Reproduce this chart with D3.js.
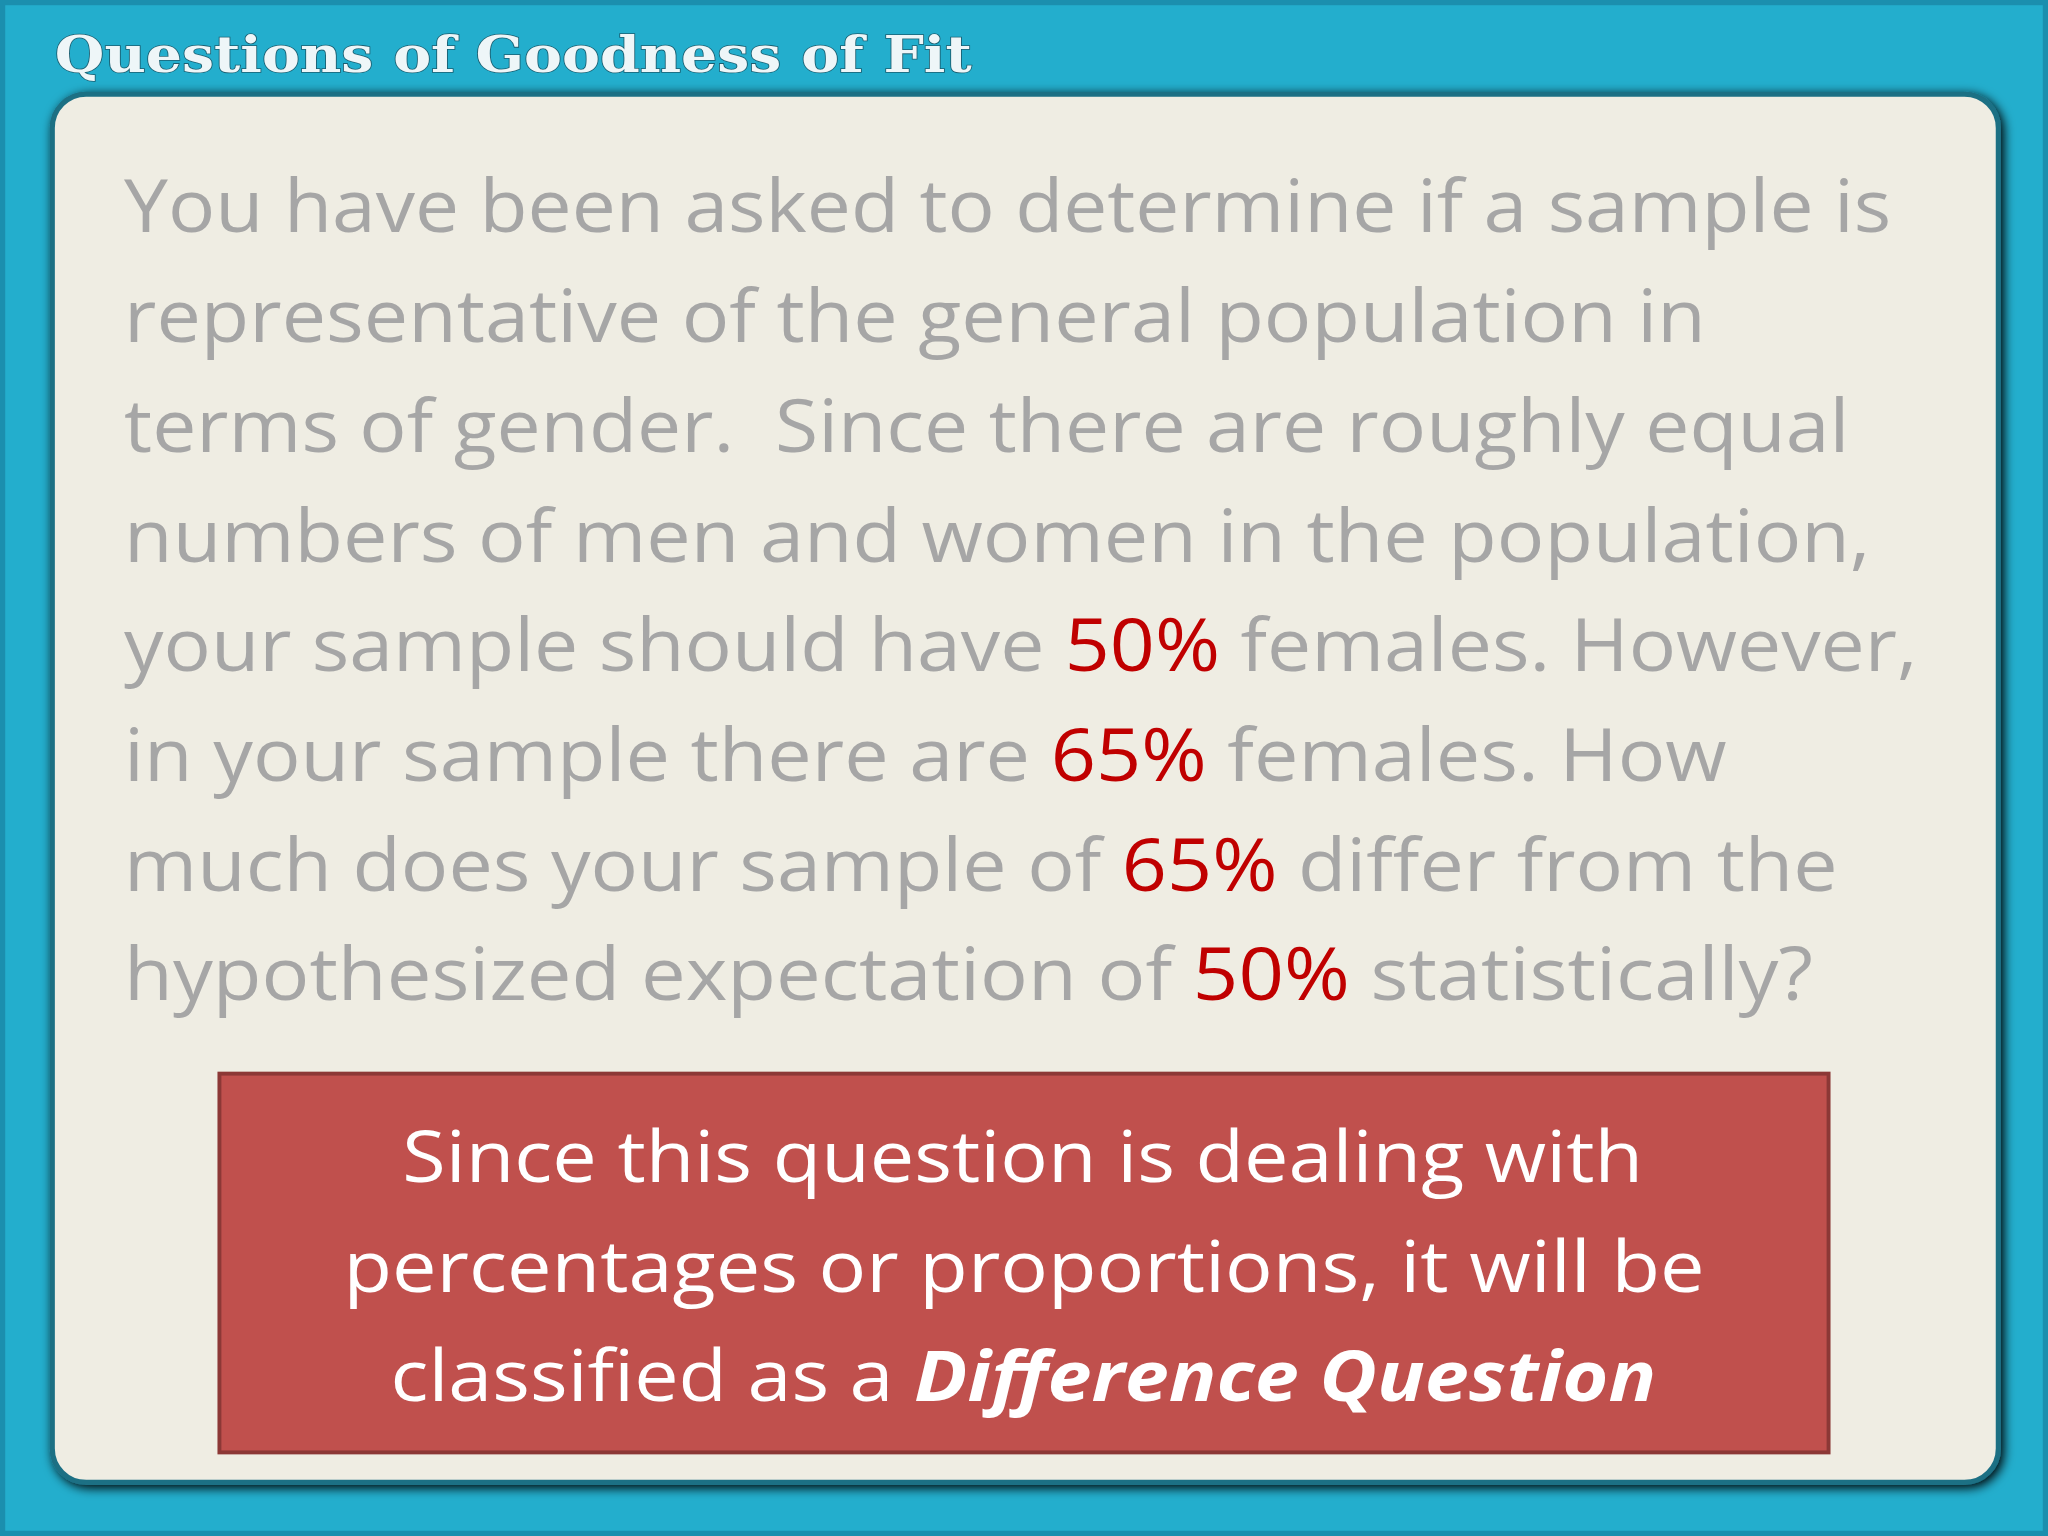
<!DOCTYPE html>
<html><head><meta charset="utf-8">
<script src="https://cdn.jsdelivr.net/npm/d3@7"></script>
<style>html,body{margin:0;padding:0;background:#22aecd}</style>
</head><body>
<script>
const title = "Questions of Goodness of Fit";
const bodyLines = [
  [["You have been asked to determine if a sample is",0]],
  [["representative of the general population in",0]],
  [["terms of gender.  Since there are roughly equal",0]],
  [["numbers of men and women in the population,",0]],
  [["your sample should have ",0],["50%",1],[" females. However,",0]],
  [["in your sample there are ",0],["65%",1],[" females. How",0]],
  [["much does your sample of ",0],["65%",1],[" differ from the",0]],
  [["hypothesized expectation of ",0],["50%",1],[" statistically?",0]]
];
const bodyEnds = [1448,1306,1416,1432,1468,1322,1407,1388];
const boxLines = [
  [["Since this question is dealing with",0]],
  [["percentages or proportions, it will be",0]],
  [["classified as a ",0],["Difference Question",1]]
];
const boxSpans = [[308,1258],[263,1305],[299,1268]];

const svg = d3.select("body").append("svg")
  .attr("width",2048).attr("height",1536).attr("viewBox","0 0 1568 1176");
const defs = svg.append("defs");
const f = defs.append("filter").attr("id","sh").attr("x","-5%").attr("y","-5%").attr("width","110%").attr("height","110%");
f.append("feGaussianBlur").attr("in","SourceAlpha").attr("stdDeviation",4);
f.append("feOffset").attr("dx",2).attr("dy",2).attr("result","b");
const m=f.append("feMerge"); m.append("feMergeNode").attr("in","b"); m.append("feMergeNode").attr("in","SourceGraphic");

svg.append("rect").attr("width",1568).attr("height",1176).attr("fill","#23aecd");
svg.append("rect").attr("x",0).attr("y",0).attr("width",1568).attr("height",1176)
  .attr("fill","none").attr("stroke","#1b8fae").attr("stroke-width",8);
svg.append("rect").attr("x",40).attr("y",72).attr("width",1490).attr("height",1063).attr("rx",26)
  .attr("fill","#efede3").attr("stroke","#1d6f84").attr("stroke-width",4).attr("filter","url(#sh)");

svg.append("text").attr("x",42).attr("y",55).text(title)
  .attr("font-family","DejaVu Serif").attr("font-weight","bold").attr("font-size",38)
  .attr("fill","#eef6f8").attr("stroke","#1a5e70").attr("stroke-width",1.2).attr("paint-order","stroke")
  .attr("textLength",702).attr("lengthAdjust","spacingAndGlyphs");

const y = d3.scaleLinear().domain([0,7]).range([178,766]);
bodyLines.forEach((ln,i)=>{
  const t = svg.append("text").attr("x",95).attr("y",y(i))
    .attr("font-family","Open Sans").attr("font-size",56)
    .attr("textLength",bodyEnds[i]-95).attr("lengthAdjust","spacingAndGlyphs")
    .attr("xml:space","preserve");
  ln.forEach(([s,r])=>t.append("tspan").text(s).attr("fill",r?"#c00000":"#a6a6a6"));
});

svg.append("rect").attr("x",168).attr("y",822).attr("width",1232).attr("height",290)
  .attr("fill","#c0504d").attr("stroke","#8c3836").attr("stroke-width",3);
const yb = d3.scaleLinear().domain([0,2]).range([905,1073]);
boxLines.forEach((ln,i)=>{
  const t = svg.append("text").attr("x",boxSpans[i][0]).attr("y",yb(i))
    .attr("font-family","Open Sans").attr("font-size",54).attr("fill","#fff")
    .attr("textLength",boxSpans[i][1]-boxSpans[i][0]).attr("lengthAdjust","spacingAndGlyphs")
    .attr("xml:space","preserve");
  ln.forEach(([s,b])=>{const sp=t.append("tspan").text(s); if(b) sp.attr("font-weight","bold").attr("font-style","italic");});
});
</script>
</body></html>
